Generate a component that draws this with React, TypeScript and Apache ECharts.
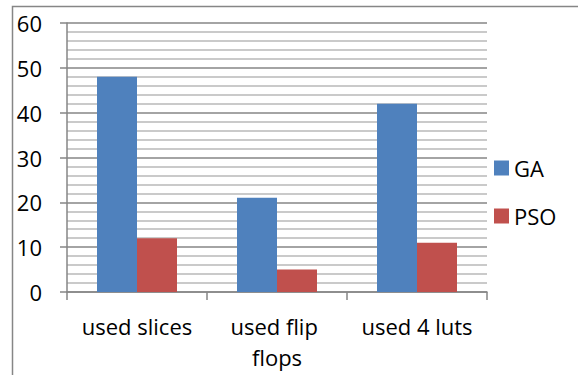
import React, { useEffect, useRef } from "react";
import * as echarts from "echarts";

const categories = ["used slices", "used flip flops", "used 4 luts"];
const gaValues = [48, 21, 42];
const psoValues = [12, 5, 11];
const yTicks = { min: 0, max: 60, interval: 10 };

const FONT = "'Open Sans', Lato, sans-serif";
const FS = 22;

export default function App() {
  const ref = useRef<HTMLDivElement>(null);

  useEffect(() => {
    document.body.style.margin = "0";
    const chart = echarts.init(ref.current!, null, { renderer: "svg" });
    chart.setOption({
      animation: false,
      backgroundColor: "#ffffff",
      textStyle: { fontFamily: FONT },
      graphic: [
        {
          type: "rect",
          shape: { x: 12.5, y: 6.5, width: 700, height: 500 },
          style: { fill: "none", stroke: "#868686", lineWidth: 1.5 },
          silent: true,
        },
      ],
      grid: { left: 67, top: 23, right: 91, bottom: 83, containLabel: false },
      legend: {
        orient: "vertical",
        left: 494,
        top: 157,
        padding: 0,
        itemWidth: 15,
        itemHeight: 15,
        itemGap: 26,
        icon: "rect",
        textStyle: { fontSize: FS, color: "#000", fontFamily: FONT },
        data: ["GA", "PSO"],
      },
      xAxis: {
        type: "category",
        data: categories,
        axisLine: { show: true, lineStyle: { color: "#868686", width: 1.5 } },
        axisTick: { show: true, length: 8, alignWithLabel: false, lineStyle: { color: "#868686", width: 1.5 } },
        axisLabel: {
          fontSize: FS,
          color: "#000",
          fontFamily: FONT,
          margin: 18,
          width: 130,
          overflow: "break",
          lineHeight: 31,
          interval: 0,
        },
        splitLine: { show: false },
      },
      yAxis: {
        type: "value",
        min: yTicks.min,
        max: yTicks.max,
        interval: yTicks.interval,
        axisLine: { show: true, lineStyle: { color: "#868686", width: 1.5 } },
        axisTick: { show: true, length: 7, lineStyle: { color: "#868686", width: 1.5 } },
        axisLabel: { fontSize: FS, color: "#000", fontFamily: FONT, margin: 25 },
        splitLine: { show: true, lineStyle: { color: "#868686", width: 1.5 } },
        minorTick: { show: false, splitNumber: 5 },
        minorSplitLine: { show: true, lineStyle: { color: "#b8b8b8", width: 1.5 } },
      },
      series: [
        {
          name: "GA",
          type: "bar",
          data: gaValues,
          barWidth: 40,
          barGap: "0%",
          itemStyle: { color: "#4F81BD" },
        },
        {
          name: "PSO",
          type: "bar",
          data: psoValues,
          barWidth: 40,
          barGap: "0%",
          itemStyle: { color: "#C0504D" },
        },
      ],
    });
    return () => chart.dispose();
  }, []);

  return <div ref={ref} style={{ width: 578, height: 375 }} />;
}
